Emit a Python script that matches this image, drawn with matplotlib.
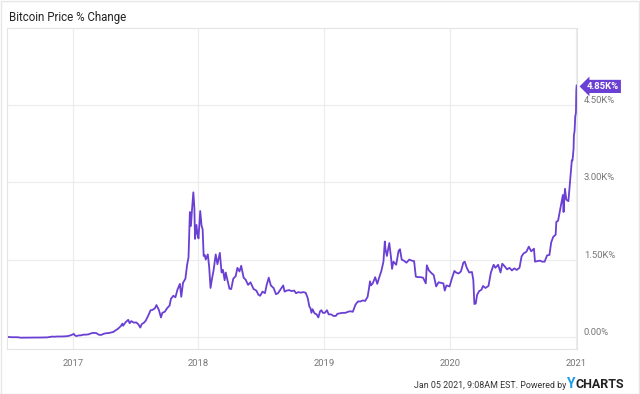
import pandas as pd
import matplotlib.pyplot as plt
import matplotlib.dates as mdates
from matplotlib.ticker import FixedLocator

# Bitcoin price % change since 2016-06-24
datas = [
    '2016-06-24', '2016-06-29', '2016-07-06', '2016-07-13', '2016-07-20', '2016-07-27',
    '2016-08-03', '2016-08-10', '2016-08-17', '2016-08-24', '2016-08-31', '2016-09-07',
    '2016-09-14', '2016-09-21', '2016-09-28', '2016-10-05', '2016-10-12', '2016-10-19',
    '2016-10-26', '2016-11-02', '2016-11-09', '2016-11-16', '2016-11-23', '2016-11-30',
    '2016-12-07', '2016-12-14', '2016-12-21', '2016-12-28',
    '2017-01-04', '2017-01-07', '2017-01-11', '2017-01-18', '2017-01-25', '2017-02-01',
    '2017-02-08', '2017-02-15', '2017-02-22', '2017-03-01', '2017-03-10', '2017-03-18',
    '2017-03-25', '2017-04-01', '2017-04-08', '2017-04-15', '2017-04-22', '2017-04-29',
    '2017-05-05', '2017-05-12', '2017-05-20', '2017-05-25', '2017-05-27', '2017-06-03',
    '2017-06-11', '2017-06-15', '2017-06-20', '2017-06-27', '2017-07-04', '2017-07-10',
    '2017-07-16', '2017-07-20', '2017-07-27', '2017-08-01', '2017-08-08', '2017-08-15',
    '2017-08-20', '2017-08-27', '2017-09-01', '2017-09-08', '2017-09-14', '2017-09-18',
    '2017-09-25', '2017-10-02', '2017-10-09', '2017-10-13', '2017-10-20', '2017-10-26',
    '2017-11-01', '2017-11-08', '2017-11-12', '2017-11-17', '2017-11-24', '2017-11-29',
    '2017-12-03', '2017-12-07', '2017-12-10', '2017-12-13', '2017-12-17', '2017-12-20',
    '2017-12-22', '2017-12-26', '2017-12-29',
    '2018-01-01', '2018-01-06', '2018-01-10', '2018-01-13', '2018-01-16', '2018-01-19',
    '2018-01-22', '2018-01-28', '2018-02-01', '2018-02-05', '2018-02-09', '2018-02-14',
    '2018-02-20', '2018-02-25', '2018-03-04', '2018-03-09', '2018-03-13', '2018-03-18',
    '2018-03-21', '2018-03-27', '2018-04-01', '2018-04-06', '2018-04-12', '2018-04-19',
    '2018-04-24', '2018-04-30', '2018-05-05', '2018-05-12', '2018-05-18', '2018-05-25',
    '2018-06-01', '2018-06-10', '2018-06-18', '2018-06-24', '2018-06-29', '2018-07-06',
    '2018-07-13', '2018-07-18', '2018-07-24', '2018-07-30', '2018-08-07', '2018-08-14',
    '2018-08-20', '2018-08-27', '2018-09-04', '2018-09-08', '2018-09-14', '2018-09-21',
    '2018-09-28', '2018-10-06', '2018-10-11', '2018-10-18', '2018-10-25', '2018-11-01',
    '2018-11-08', '2018-11-14', '2018-11-19', '2018-11-22', '2018-11-25', '2018-11-28',
    '2018-12-04', '2018-12-10', '2018-12-15', '2018-12-20', '2018-12-24', '2018-12-28',
    '2019-01-03', '2019-01-09', '2019-01-14', '2019-01-21', '2019-01-28', '2019-02-04',
    '2019-02-08', '2019-02-15', '2019-02-24', '2019-03-04', '2019-03-11', '2019-03-18',
    '2019-03-25', '2019-04-02', '2019-04-09', '2019-04-16', '2019-04-23', '2019-04-30',
    '2019-05-07', '2019-05-11', '2019-05-14', '2019-05-17', '2019-05-22', '2019-05-29',
    '2019-06-04', '2019-06-10', '2019-06-16', '2019-06-22', '2019-06-26', '2019-06-28',
    '2019-07-02', '2019-07-09', '2019-07-14', '2019-07-17', '2019-07-21', '2019-07-29',
    '2019-08-05', '2019-08-09', '2019-08-14', '2019-08-20', '2019-08-28', '2019-09-05',
    '2019-09-12', '2019-09-19', '2019-09-24', '2019-09-30', '2019-10-08', '2019-10-15',
    '2019-10-23', '2019-10-26', '2019-11-01', '2019-11-08', '2019-11-15', '2019-11-22',
    '2019-11-29', '2019-12-06', '2019-12-13', '2019-12-17', '2019-12-22', '2019-12-31',
    '2020-01-07', '2020-01-14', '2020-01-19', '2020-01-26', '2020-02-02', '2020-02-09',
    '2020-02-13', '2020-02-19', '2020-02-26', '2020-03-05', '2020-03-09', '2020-03-12',
    '2020-03-16', '2020-03-20', '2020-03-26', '2020-04-02', '2020-04-06', '2020-04-13',
    '2020-04-22', '2020-04-29', '2020-05-07', '2020-05-12', '2020-05-20', '2020-05-27',
    '2020-06-01', '2020-06-08', '2020-06-15', '2020-06-22', '2020-06-29', '2020-07-06',
    '2020-07-13', '2020-07-21', '2020-07-27', '2020-08-02', '2020-08-10', '2020-08-17',
    '2020-08-24', '2020-09-01', '2020-09-04', '2020-09-11', '2020-09-18', '2020-09-25',
    '2020-10-02', '2020-10-09', '2020-10-16', '2020-10-21', '2020-10-27', '2020-11-03',
    '2020-11-05', '2020-11-10', '2020-11-17', '2020-11-24', '2020-11-26', '2020-11-30',
    '2020-12-04', '2020-12-10', '2020-12-16', '2020-12-20', '2020-12-22', '2020-12-25',
    '2020-12-26', '2020-12-28', '2020-12-30', '2020-12-31', '2021-01-01', '2021-01-02',
    '2021-01-03', '2021-01-04',
]
variacao = [
    0, 3, -2, -1, -2, -4,
    -12, -10, -11, -10, -9, -8,
    -8, -9, -8, -7, -6, -5,
    2, 10, 8, 12, 11, 12,
    15, 17, 25, 40,
    62, 35, 20, 32, 35, 47,
    48, 52, 70, 82, 78, 45,
    43, 65, 75, 78, 88, 100,
    130, 160, 210, 260, 220, 285,
    335, 270, 310, 280, 285, 250,
    185, 250, 280, 320, 415, 520,
    525, 555, 620, 525, 380, 470,
    490, 560, 610, 740, 800, 770,
    920, 1030, 780, 1050, 1130, 1400,
    1540, 2420, 2150, 2450, 2800, 2500,
    1900, 2170, 2000,
    1910, 2440, 2150, 2090, 1570, 1590,
    1500, 1600, 1360, 950, 1120, 1300,
    1600, 1410, 1630, 1250, 1300, 1100,
    1250, 1080, 935, 930, 1130, 1180,
    1340, 1270, 1380, 1150, 1110, 1010,
    1060, 930, 900, 820, 800, 880,
    850, 1010, 1150, 1000, 950, 830,
    850, 920, 1000, 880, 900, 910,
    890, 900, 850, 870, 860, 870,
    860, 760, 590, 560, 470, 540,
    460, 440, 380, 500, 520, 470,
    470, 520, 440, 440, 410, 410,
    450, 460, 470, 470, 490, 500,
    490, 630, 690, 690, 710, 700,
    780, 940, 1080, 1000, 1040, 1160,
    1030, 1160, 1280, 1460, 1850, 1700,
    1570, 1820, 1540, 1320, 1460, 1400,
    1670, 1700, 1500, 1480, 1440, 1500,
    1480, 1470, 1170, 1160, 1160, 1150,
    1040, 1390, 1290, 1240, 1200, 980,
    1060, 1050, 1040, 900, 1000, 980,
    1140, 1280, 1250, 1230, 1270, 1440,
    1460, 1340, 1250, 1260, 1100, 640,
    650, 820, 890, 920, 990, 950,
    990, 1250, 1400, 1340, 1400, 1250,
    1420, 1370, 1310, 1340, 1290, 1330,
    1300, 1340, 1560, 1620, 1650, 1750,
    1660, 1710, 1460, 1470, 1480, 1460,
    1460, 1580, 1590, 1830, 1940, 1980,
    2230, 2250, 2500, 2750, 2420, 2870,
    2660, 2630, 3100, 3420, 3420, 3640,
    3900, 3990, 4280, 4300, 4350, 4770,
    4870, 4850,
]
ticks_y = [0, 1500, 3000, 4500]
rotulos_y = ['0.00%', '1.50K%', '3.00K%', '4.50K%']
anos = ['2017', '2018', '2019', '2020', '2021']

datas = pd.to_datetime(datas)
roxo = '#6a3fd3'
cinza_grade = '#ececec'
fonte = 'Roboto'

fig = plt.figure(figsize=(6.4, 3.94), dpi=100)
ax = fig.add_axes([7 / 640, 1 - 349 / 394, 570 / 640, 321 / 394])

ax.plot(datas, variacao, color=roxo, linewidth=1.3)

ax.set_xlim(pd.Timestamp('2016-06-24'), pd.Timestamp('2021-01-04'))
ax.set_ylim(-230, 5980)
ax.xaxis.set_major_locator(FixedLocator([mdates.date2num(pd.Timestamp(a + '-01-01')) for a in anos]))
ax.set_xticklabels(anos)
ax.set_yticks(ticks_y)
ax.set_yticklabels(rotulos_y)
ax.yaxis.tick_right()
ax.tick_params(axis='both', length=0, labelsize=6.8, colors='#777777')
ax.tick_params(axis='y', pad=5)
ax.tick_params(axis='x', pad=7)
for lbl in ax.get_xticklabels() + ax.get_yticklabels():
    lbl.set_family(fonte)
for lbl in ax.get_yticklabels():
    lbl.set_verticalalignment('bottom')

ax.grid(True, color=cinza_grade, linewidth=0.8)
for s in ax.spines.values():
    s.set_color('#e4e4e4')
    s.set_linewidth(0.8)

# rotulo do ultimo valor
ax.annotate('4.85K%', xy=(datas[-1], variacao[-1]), xytext=(7, 0), textcoords='offset points',
            ha='left', va='center', fontsize=6.8, fontweight='bold', color='white',
            family=fonte,
            bbox=dict(boxstyle='larrow,pad=0.22', facecolor=roxo, edgecolor='none'),
            annotation_clip=False)

fig.text(9 / 640, 1 - 18 / 394, 'Bitcoin Price % Change', fontsize=8.3, color='#222222',
         family=fonte, va='center')
fig.text(566 / 640, 1 - 385 / 394, 'Jan 05 2021, 9:08AM EST. Powered by', fontsize=6.4,
         color='#333333', family=fonte, va='center', ha='right')
fig.text(567 / 640, 1 - 384 / 394, 'Y', fontsize=10, color='#1a9be8', fontweight='bold',
         family=fonte, va='center', ha='left')
fig.text(576 / 640, 1 - 384 / 394, 'CHARTS', fontsize=9, color='#222222', fontweight='bold',
         family=fonte, va='center', ha='left')

# moldura externa
fig.patches.append(plt.Rectangle((0.001, 0.001), 0.998, 0.997, transform=fig.transFigure,
                                 fill=False, edgecolor='#e6e6e6', linewidth=1))

fig.savefig('out.png', dpi=100)
